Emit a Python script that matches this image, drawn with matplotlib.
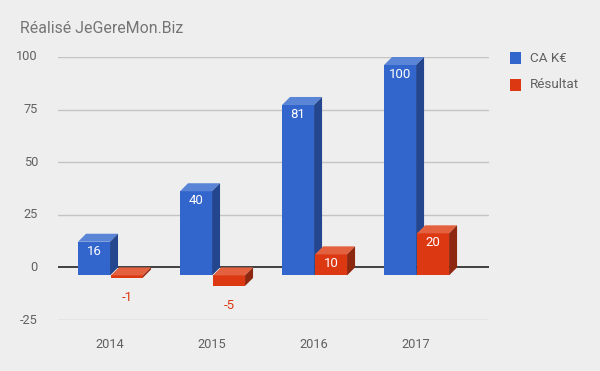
import numpy as np
import matplotlib
matplotlib.use('Agg')
import matplotlib.pyplot as plt
from matplotlib.patches import Polygon, Rectangle

plt.rcParams['font.family'] = ['Roboto', 'DejaVu Sans']

years = ['2014', '2015', '2016', '2017']
ca = [16, 40, 81, 100]
resultat = [-1, -5, 10, 20]
series = [('CA K€', ca), ('Résultat', resultat)]
colors = {  # front, top, side
    'CA K€': ('#3366cc', '#5a84d6', '#23468f'),
    'Résultat': ('#dc3912', '#e3613f', '#8e2710'),
}
yticks = [-25, 0, 25, 50, 75, 100]

BG = '#eeeeee'
W, H = 600, 371
fig = plt.figure(figsize=(W / 100, H / 100), dpi=100, facecolor=BG)
# axes box: x 58..489 px, y(100)=57 px, y(-25)=320 px
ax = fig.add_axes([58 / W, (H - 320) / H, 431 / W, 263 / H], facecolor=BG)
ax.set_ylim(-25, 100)
ax.set_xlim(-0.51, 3.715)
for s in ax.spines.values():
    s.set_visible(False)
ax.set_xticks([])
ax.set_yticks([])

px_y = 125 / 263.0          # data units per pixel (y)
px_x = 1 / 102.0            # category units per pixel (x)
dx, dy = 8 * px_x, 8 * px_y  # depth offset
bw = 32 * px_x

for t in yticks:
    ax.axhline(t, color='#222222' if t == 0 else '#c4c4c4', lw=1.2 if t == 0 else 1, zorder=1)
    ax.text(-0.51 - 20 * px_x, t, str(t), ha='right', va='center', fontsize=9.2, color='#616161')

for i, yr in enumerate(years):
    ax.text(i, -25 - 25 * px_y, yr, ha='center', va='center', fontsize=9.2, color='#616161')

for k, (name, vals) in enumerate(series):
    front, top_c, side_c = colors[name]
    for i, v in enumerate(vals):
        x0 = i - bw if k == 0 else i + 1 * px_x
        hi, lo = max(0, v), min(0, v)
        ax.add_patch(Rectangle((x0, lo - dy), bw, hi - lo, facecolor=front, edgecolor='none', zorder=3))
        ax.add_patch(Polygon([(x0, hi - dy), (x0 + bw, hi - dy), (x0 + bw + dx, hi), (x0 + dx, hi)],
                             closed=True, facecolor=top_c, edgecolor='none', zorder=3))
        ax.add_patch(Polygon([(x0 + bw, lo - dy), (x0 + bw, hi - dy), (x0 + bw + dx, hi), (x0 + bw + dx, lo)],
                             closed=True, facecolor=side_c, edgecolor='none', zorder=3))
        cx = x0 + bw / 2
        if v >= 5:
            ax.text(cx, hi - dy - 9.5 * px_y, str(v), ha='center', va='center', fontsize=9.5, color='white', zorder=4)
        else:
            ax.text(cx, lo - dy - 20 * px_y, str(v), ha='center', va='center', fontsize=9.5, color=front, zorder=4)

fig.text(20 / W, 1 - 28.5 / H, 'Réalisé JeGereMon.Biz', ha='left', va='center', fontsize=11.4, color='#757575')

for k, (name, vals) in enumerate(series):
    yc = 58 + k * 27
    fig.patches.append(Rectangle((510 / W, 1 - (yc + 6) / H), 11 / W, 12 / H, transform=fig.transFigure,
                                 facecolor=colors[name][0], edgecolor='none'))
    fig.text(530 / W, 1 - yc / H, name, ha='left', va='center', fontsize=9.7, color='#616161')

fig.savefig('out.png', dpi=100, facecolor=BG)
